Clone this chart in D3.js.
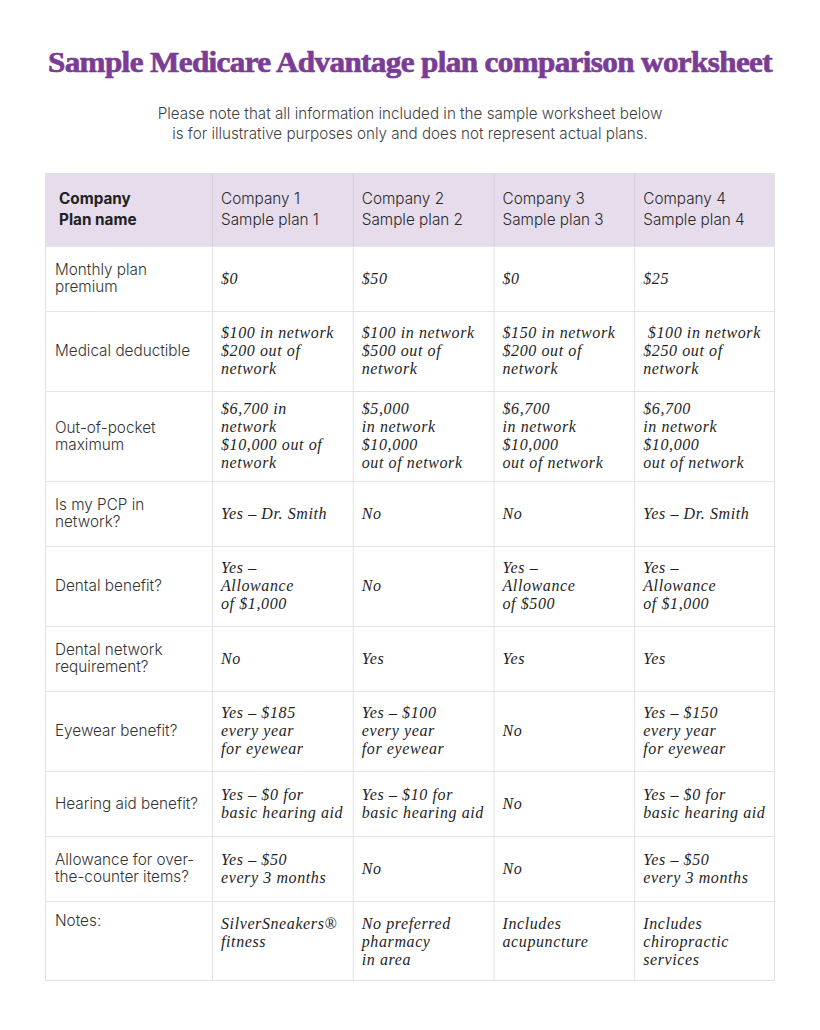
<!DOCTYPE html>
<html><head><meta charset="utf-8">
<script src="https://cdn.jsdelivr.net/npm/d3@7"></script>
<style>
html,body{margin:0;padding:0;background:#fff;}
</style></head>
<body><svg id="chart" width="820" height="1030"></svg>
<script>
// ---- data ----
const title = "Sample Medicare Advantage plan comparison worksheet";
const subtitle = ["Please note that all information included in the sample worksheet below",
                  "is for illustrative purposes only and does not represent actual plans."];
const headerLabel = ["Company", "Plan name"];
const companies = ["Company 1", "Company 2", "Company 3", "Company 4"];
const planNames = ["Sample plan 1", "Sample plan 2", "Sample plan 3", "Sample plan 4"];
const rowLabels = [
  ["Monthly plan", "premium"],
  ["Medical deductible"],
  ["Out-of-pocket", "maximum"],
  ["Is my PCP in", "network?"],
  ["Dental benefit?"],
  ["Dental network", "requirement?"],
  ["Eyewear benefit?"],
  ["Hearing aid benefit?"],
  ["Allowance for over-", "the-counter items?"],
  ["Notes:"]
];
const plan1 = [
  ["$0"],
  ["$100 in network", "$200 out of", "network"],
  ["$6,700 in", "network", "$10,000 out of", "network"],
  ["Yes – Dr. Smith"],
  ["Yes –", "Allowance", "of $1,000"],
  ["No"],
  ["Yes – $185", "every year", "for eyewear"],
  ["Yes – $0 for", "basic hearing aid"],
  ["Yes – $50", "every 3 months"],
  ["SilverSneakers®", "fitness"]
];
const plan2 = [
  ["$50"],
  ["$100 in network", "$500 out of", "network"],
  ["$5,000", "in network", "$10,000", "out of network"],
  ["No"],
  ["No"],
  ["Yes"],
  ["Yes – $100", "every year", "for eyewear"],
  ["Yes – $10 for", "basic hearing aid"],
  ["No"],
  ["No preferred", "pharmacy", "in area"]
];
const plan3 = [
  ["$0"],
  ["$150 in network", "$200 out of", "network"],
  ["$6,700", "in network", "$10,000", "out of network"],
  ["No"],
  ["Yes –", "Allowance", "of $500"],
  ["Yes"],
  ["No"],
  ["No"],
  ["No"],
  ["Includes", "acupuncture"]
];
const plan4 = [
  ["$25"],
  [" $100 in network", "$250 out of", "network"],
  ["$6,700", "in network", "$10,000", "out of network"],
  ["Yes – Dr. Smith"],
  ["Yes –", "Allowance", "of $1,000"],
  ["Yes"],
  ["Yes – $150", "every year", "for eyewear"],
  ["Yes – $0 for", "basic hearing aid"],
  ["Yes – $50", "every 3 months"],
  ["Includes", "chiropractic", "services"]
];
const plans = [plan1, plan2, plan3, plan4];

// ---- layout ----
const svg = d3.select("#chart");
const purple = "#7b3c96";
const sans = "Inter, 'Liberation Sans', sans-serif";
const hand = "'Liberation Serif', serif";
const tableLeft = 45, tableRight = 775, tableTop = 173;
const firstColW = 167;
const colKeys = ["label", "p0", "p1", "p2", "p3"];
const colX = d3.scaleOrdinal().domain(colKeys)
  .range([tableLeft].concat(d3.range(4).map(i => tableLeft + firstColW + i * (tableRight - tableLeft - firstColW) / 4)));

const headerH = 73;
const lineH = 18;
const rowHeights = rowLabels.map((lab, i) => {
  const n = Math.max(lab.length, ...plans.map(p => p[i].length));
  return Math.max(n <= 2 ? 65 : 80, n * lineH + 18);
});
const rowTops = [tableTop + headerH];
rowHeights.forEach((h, i) => rowTops.push(rowTops[i] + h));
const tableBottom = rowTops[rowTops.length - 1];

// title
svg.append("text").attr("x", 48).attr("y", 72)
  .attr("textLength", 724).attr("lengthAdjust", "spacingAndGlyphs")
  .attr("font-family", "'Liberation Serif', serif").attr("font-weight", "bold")
  .attr("font-size", 30).attr("fill", purple)
  .attr("stroke", purple).attr("stroke-width", 0.7)
  .attr("letter-spacing", -0.6).text(title);

// subtitle
svg.selectAll("text.sub").data(subtitle).join("text").attr("class", "sub")
  .attr("x", 410).attr("y", (d, i) => 119 + i * 19.5)
  .attr("text-anchor", "middle").attr("font-family", sans).attr("font-size", 15.2)
  .attr("font-weight", 300)
  .attr("fill", "#3f3f3f").text(d => d);

// header background
svg.append("rect").attr("x", tableLeft).attr("y", tableTop)
  .attr("width", tableRight - tableLeft).attr("height", headerH).attr("fill", "#e6dcec");

// row separator lines
svg.selectAll("line.row").data(rowTops.slice(0, -1)).join("line").attr("class", "row")
  .attr("x1", tableLeft).attr("x2", tableRight).attr("y1", d => d + 0.5).attr("y2", d => d + 0.5)
  .attr("stroke", "#e4e4e4").attr("stroke-width", 1);
// vertical lines
svg.selectAll("line.col").data(colKeys.slice(1)).join("line").attr("class", "col")
  .attr("x1", d => colX(d) + 0.5).attr("x2", d => colX(d) + 0.5)
  .attr("y1", tableTop).attr("y2", tableBottom)
  .attr("stroke", "#e2e2e2");
svg.selectAll("line.colh").data(colKeys.slice(1)).join("line").attr("class", "colh")
  .attr("x1", d => colX(d) + 0.5).attr("x2", d => colX(d) + 0.5)
  .attr("y1", tableTop).attr("y2", tableTop + headerH)
  .attr("stroke", "#d6cdd9");
// outer border
svg.append("rect").attr("x", tableLeft + 0.5).attr("y", tableTop + 0.5)
  .attr("width", tableRight - tableLeft - 1).attr("height", tableBottom - tableTop - 1)
  .attr("fill", "none").attr("stroke", "#e2e2e2");

// helper for multi-line cell text
function cell(lines, x, top, h, opts) {
  const lh = opts.lh;
  const n = lines.length;
  const startY = opts.top ? top + opts.topOffset : top + h / 2 - (n - 1) * lh / 2 + opts.base;
  const t = svg.append("text").attr("font-family", opts.font).attr("font-size", opts.size)
    .attr("fill", opts.fill).attr("font-weight", opts.weight || "normal")
    .attr("font-style", opts.style || "normal").attr("letter-spacing", opts.ls || 0)
    .attr("xml:space", "preserve");
  t.selectAll("tspan").data(lines).join("tspan")
    .attr("x", x).attr("y", (d, i) => startY + i * lh).text(d => d);
}

// header text
cell(headerLabel, colX("label") + 14, tableTop, headerH,
  {lh: 21, base: 5, font: sans, size: 15.3, fill: "#222", weight: "bold"});
companies.forEach((c, i) => {
  cell([c, planNames[i]], colX("p" + i) + 9, tableTop, headerH,
    {lh: 21, base: 5, font: sans, size: 15.3, fill: "#2a2a2a", weight: 300});
});

// body rows
rowLabels.forEach((lab, r) => {
  const isNotes = r === rowLabels.length - 1;
  cell(lab, colX("label") + 10, rowTops[r], rowHeights[r],
    {lh: 17, base: 5, font: sans, size: 15.3, fill: "#333", weight: 300, top: isNotes, topOffset: 25});
  plans.forEach((p, c) => {
    cell(p[r], colX("p" + c) + 9, rowTops[r], rowHeights[r],
      {lh: lineH, base: 5, font: hand, size: 16, ls: 0.6, fill: "#1e1e1e", style: "italic", top: isNotes, topOffset: 28});
  });
});
</script></body></html>
